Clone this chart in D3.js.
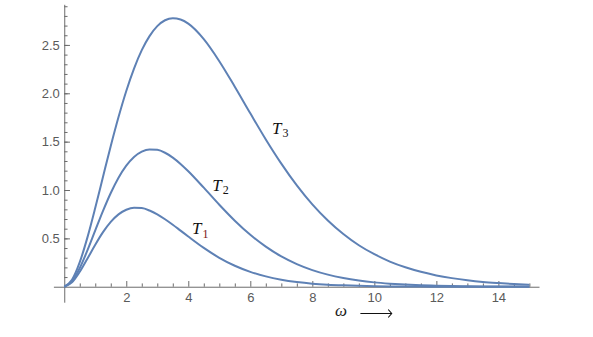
<!DOCTYPE html>
<html lang="en">

<head>
  <meta charset="UTF-8">
  <title>Planck curves</title>
  <style>
    body { margin: 0; background: #fff; }
    svg { display: block; }
    .tick text { font-family: "Liberation Sans", Arial, sans-serif; font-size: 13px; fill: #5a5a5a; }
    .axis path, .axis line { stroke: #6b6b6b; }
  </style>
</head>

<body>
  <div id="chart"></div>

  <script src="https://d3js.org/d3.v7.min.js"></script>
  <script>
    const width = 593
    const height = 337

    // 读图得到的数值
    const omega = [0, 0.25, 0.5, 0.75, 1, 1.25, 1.5, 1.75, 2, 2.25, 2.5, 2.75, 3, 3.25, 3.5, 3.75, 4,
      4.5, 5, 5.5, 6, 6.5, 7, 7.5, 8, 8.5, 9, 9.5, 10, 10.5, 11, 11.5, 12, 12.5, 13, 13.5, 14, 14.5, 15]
    const t1 = [0, 0.045, 0.154, 0.292, 0.434, 0.564, 0.670, 0.748, 0.796, 0.817, 0.813, 0.788, 0.749, 0.698, 0.641, 0.580, 0.519,
      0.401, 0.299, 0.217, 0.154, 0.107, 0.073, 0.049, 0.032, 0.021, 0.014, 0.009, 0.0055, 0.0034, 0.0022, 0.0013, 0.0009, 0.0005, 0.0003, 0.0002, 0.0001, 0.0001, 0]
    const t2 = [0, 0.055, 0.193, 0.378, 0.582, 0.784, 0.969, 1.127, 1.252, 1.342, 1.397, 1.420, 1.415, 1.385, 1.335, 1.270, 1.194,
      1.024, 0.848, 0.683, 0.537, 0.414, 0.313, 0.234, 0.172, 0.125, 0.090, 0.064, 0.045, 0.032, 0.022, 0.015, 0.011, 0.007, 0.005, 0.003, 0.002, 0.0015, 0.001]
    const t3 = [0, 0.071, 0.254, 0.513, 0.816, 1.137, 1.455, 1.754, 2.024, 2.256, 2.446, 2.591, 2.694, 2.755, 2.776, 2.763, 2.720,
      2.560, 2.332, 2.068, 1.793, 1.523, 1.273, 1.048, 0.852, 0.685, 0.545, 0.429, 0.336, 0.260, 0.201, 0.154, 0.117, 0.089, 0.067, 0.050, 0.038, 0.028, 0.021]

    const xTicks = [2, 4, 6, 8, 10, 12, 14]
    const yTicks = [0.5, 1, 1.5, 2, 2.5]

    // 曲线标注 (名称、下标、所在数据坐标)
    const labelNames = ['T', 'T', 'T']
    const labelSubs = ['1', '2', '3']
    const labelOmega = [4.12, 4.77, 6.7]
    const labelValue = [0.545, 0.99, 1.58]

    const series = [t1, t2, t3]

    const svg = d3.select('#chart').append('svg')
      .attr('width', width)
      .attr('height', height)

    const x = d3.scaleLinear().domain([-0.35, 15.31]).range([53.4, 539])
    const y = d3.scaleLinear().domain([-0.16, 2.92]).range([302.2, 4.3])

    // 次刻度
    const xMinor = d3.range(0.5, 15.01, 0.5).filter(d => d % 2 !== 0)
    const yMinor = d3.range(1, 30).map(d => d / 10).filter(d => d % 5 !== 0)

    const gx = svg.append('g').attr('class', 'axis')
      .attr('transform', `translate(0,${y(0)})`)
    gx.call(d3.axisBottom(x).tickValues(xTicks).tickSizeInner(-5.7).tickSizeOuter(0).tickPadding(6)
      .tickFormat(d3.format('d')))
    gx.append('g').call(d3.axisBottom(x).tickValues(xMinor).tickSizeInner(-3.3).tickSizeOuter(0).tickFormat(''))
      .select('.domain').remove()

    const gy = svg.append('g').attr('class', 'axis')
      .attr('transform', `translate(${x(0)},0)`)
    gy.call(d3.axisLeft(y).tickValues(yTicks).tickSizeInner(-5.7).tickSizeOuter(0).tickPadding(4.5)
      .tickFormat(d3.format('.1f')))
    gy.append('g').call(d3.axisLeft(y).tickValues(yMinor).tickSizeInner(-3.3).tickSizeOuter(0).tickFormat(''))
      .select('.domain').remove()

    const line = d3.line()
      .x((d, i) => x(omega[i]))
      .y(d => y(d))
      .curve(d3.curveMonotoneX)

    svg.append('g').selectAll('path')
      .data(series)
      .join('path')
      .attr('d', line)
      .attr('fill', 'none')
      .attr('stroke', '#5e81b5')
      .attr('stroke-width', 2)

    const lab = svg.append('g').selectAll('text')
      .data(labelNames)
      .join('text')
      .attr('x', (d, i) => x(labelOmega[i]))
      .attr('y', (d, i) => y(labelValue[i]))
      .attr('font-family', '"Liberation Serif", "DejaVu Serif", serif')
      .attr('font-style', 'italic')
      .attr('font-size', 17)
      .attr('fill', '#111')
    lab.append('tspan').text(d => d)
    lab.append('tspan')
      .attr('font-style', 'normal')
      .attr('font-size', 12)
      .attr('dx', 1)
      .attr('dy', 3.5)
      .attr('fill', (d, i) => i === 0 ? '#7a1414' : '#111')
      .text((d, i) => labelSubs[i])

    // 横轴标题 ω ⟶ (箭头用路径画，避免与刻度文字重叠)
    svg.append('text')
      .attr('x', x(8.73))
      .attr('y', 316)
      .attr('font-family', '"Liberation Serif", "DejaVu Serif", serif')
      .attr('font-style', 'italic')
      .attr('font-size', 17)
      .attr('fill', '#222')
      .text('ω')
    const ax0 = x(9.55), ax1 = x(10.56), ay = 313.5
    svg.append('path')
      .attr('d', `M${ax0},${ay}H${ax1}M${ax1 - 3.5},${ay - 4}L${ax1},${ay}L${ax1 - 3.5},${ay + 4}`)
      .attr('fill', 'none')
      .attr('stroke', '#111')
      .attr('stroke-width', 1.1)
  </script>
</body>

</html>
